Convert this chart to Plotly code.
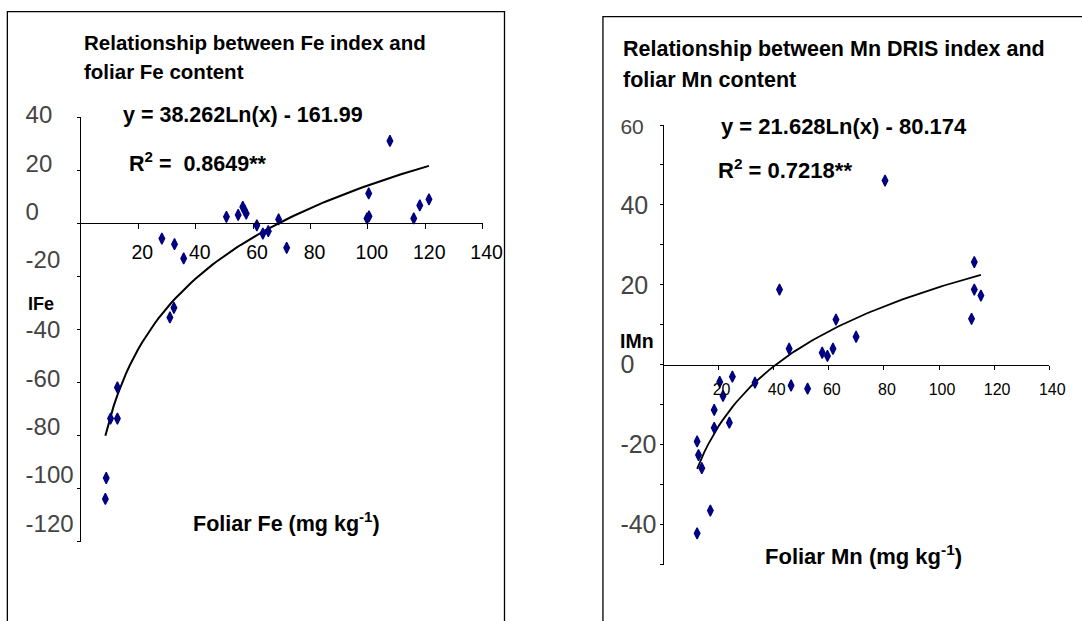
import numpy as np
import plotly.graph_objects as go

W, H = 1082, 621
FONT = "Liberation Sans, Arial, sans-serif"
NAVY = "#000080"

# ---------------- data ----------------
fe_x = [107.7, 100.3, 99.7, 100.4, 116.0, 118.1, 121.3, 50.7, 54.8, 56.4, 57.0, 57.6,
        61.3, 63.4, 65.3, 68.9, 71.7, 28.2, 32.6, 35.8, 31.0, 32.4, 12.7, 10.3, 12.7, 8.8, 8.5]
fe_y = [31.0, 11.2, 1.8, 2.6, 1.8, 6.7, 9.0, 2.4, 3.1, 6.1, 4.9, 3.6,
        -0.8, -3.9, -3.0, 1.4, -9.3, -5.8, -7.9, -13.3, -35.5, -31.9, -61.9, -73.6, -73.6, -96.0, -103.9]
fe_coef = (38.262, -161.99)

mn_x = [80.4, 42.1, 112.8, 112.8, 115.2, 62.6, 111.8, 69.9, 45.6, 57.6, 59.5, 61.5, 46.3,
        52.3, 33.2, 25.0, 20.4, 21.6, 18.4, 18.4, 23.9, 12.2, 12.7, 13.9, 17.0, 12.2]
mn_y = [46.1, 18.8, 25.7, 18.8, 17.3, 11.3, 11.5, 7.0, 4.0, 3.0, 2.2, 4.0, -5.2,
        -6.0, -4.5, -3.0, -4.3, -7.8, -11.3, -15.8, -14.5, -19.2, -22.6, -25.9, -36.5, -42.2]
mn_coef = (21.628, -80.174)

x_ticks = [20, 40, 60, 80, 100, 120, 140]
fe_y_labels_a = [40, 20, 0, -20]
fe_y_labels_b = [-40, -60, -80, -100, -120]
fe_y_ticks = [40, 20, 0, -20, -40, -60, -80, -100, -120]
mn_y_labels = [60, 40, 20, 0, -20, -40]
mn_y_ticks = [60, 50, 40, 30, 20, 10, 0, -10, -20, -30, -40, -50]

fe_title = ["Relationship between Fe index and", "foliar Fe content"]
mn_title = ["Relationship between Mn DRIS index and", "foliar Mn content"]
fe_eq = "y = 38.262Ln(x) - 161.99"
fe_r2 = "R<sup>2</sup> = &nbsp;0.8649**"
mn_eq = "y = 21.628Ln(x) - 80.174"
mn_r2 = "R<sup>2</sup> = 0.7218**"
fe_xtitle = "Foliar Fe (mg kg<sup>-1</sup>)"
mn_xtitle = "Foliar Mn (mg kg<sup>-1</sup>)"
fe_ytitle = "IFe"
mn_ytitle = "IMn"


def px(x):
    return x / W


def py(y):
    return 1 - y / H


def trend(xs, coef, n=80):
    xx = np.linspace(min(xs), max(xs), n)
    return xx, coef[0] * np.log(xx) + coef[1]


def label_range(va, pa, vb, pb, top=0.0, bot=float(H)):
    # range of a full-height label axis placing value va at pixel pa and vb at pb
    k = (pb - pa) / (va - vb)
    r1 = va + (pa - top) / k
    r0 = r1 - (bot - top) / k
    return [r0, r1]


fig = go.Figure()

# ---------------- left panel (Fe) ----------------
fx, fy = trend(fe_x, fe_coef)
fig.add_trace(go.Scatter(x=fx, y=fy, mode="lines", line=dict(color="black", width=2),
                         xaxis="x", yaxis="y", hoverinfo="skip"))
fig.add_trace(go.Scatter(x=fe_x, y=fe_y, mode="markers",
                         marker=dict(symbol="diamond-tall", size=8, color=NAVY,
                                     line=dict(color=NAVY, width=1.3)),
                         xaxis="x", yaxis="y"))
fig.add_trace(go.Scatter(x=[None], y=[None], xaxis="x", yaxis="y3", hoverinfo="skip"))
fig.add_trace(go.Scatter(x=[None], y=[None], xaxis="x", yaxis="y4", hoverinfo="skip"))

# ---------------- right panel (Mn) ----------------
mx, my = trend(mn_x, mn_coef)
fig.add_trace(go.Scatter(x=mx, y=my, mode="lines", line=dict(color="black", width=1.8),
                         xaxis="x2", yaxis="y2", hoverinfo="skip"))
fig.add_trace(go.Scatter(x=mn_x, y=mn_y, mode="markers",
                         marker=dict(symbol="diamond-tall", size=8, color=NAVY,
                                     line=dict(color=NAVY, width=1.3)),
                         xaxis="x2", yaxis="y2"))
fig.add_trace(go.Scatter(x=[None], y=[None], xaxis="x2", yaxis="y5", hoverinfo="skip"))

# geometry
L_T, L_B = 117.0, 541.7
R_T, R_B = 125.0, 564.5
fe_yrange = [-120, 40]
mn_yrange = [-50, 60]


def zero_pos(top, bot, rng):
    d0, d1 = py(bot), py(top)
    return d0 + (0 - rng[0]) / (rng[1] - rng[0]) * (d1 - d0)


axis_common = dict(showgrid=False, zeroline=False, showline=True, linecolor="black",
                   linewidth=1, ticks="outside", tickcolor="black", tickwidth=1)
label_axis = dict(side="left", anchor="free", domain=[0, 1], ticklabelposition="inside",
                  ticks="", showline=False, showgrid=False, zeroline=False,
                  fixedrange=True)

layout = dict(
    width=W, height=H, margin=dict(l=0, r=0, t=0, b=0),
    paper_bgcolor="white", plot_bgcolor="rgba(0,0,0,0)", showlegend=False,
    font=dict(family=FONT, color="black"),
    xaxis=dict(domain=[px(82.5), px(491.7)], range=[0, 140], anchor="free",
               position=zero_pos(L_T, L_B, fe_yrange), tickvals=x_ticks,
               ticktext=[str(v) for v in x_ticks], ticklen=5, ticklabelstandoff=6,
               ticklabelshift=4, tickfont=dict(size=19.5, family=FONT), **axis_common),
    yaxis=dict(domain=[py(L_B), py(L_T)], range=fe_yrange, anchor="x",
               tickvals=fe_y_ticks, showticklabels=False, ticklen=3, **axis_common),
    yaxis3=dict(position=px(22), range=label_range(40, 115, -20, 259.3),
                tickvals=fe_y_labels_a, ticktext=[str(v) for v in fe_y_labels_a],
                tickfont=dict(size=24, family=FONT), **label_axis),
    yaxis4=dict(position=px(22), range=label_range(-40, 330, -120, 523.3),
                tickvals=fe_y_labels_b, ticktext=[str(v) for v in fe_y_labels_b],
                tickfont=dict(size=24, family=FONT), **label_axis),
    xaxis2=dict(domain=[px(676), px(1069)], range=[0, 140], anchor="free",
                position=zero_pos(R_T, R_B, mn_yrange), tickvals=x_ticks,
                ticktext=[str(v) for v in x_ticks], ticklen=4, ticklabelstandoff=6,
                ticklabelshift=3, tickfont=dict(size=16, family=FONT), **axis_common),
    yaxis2=dict(domain=[py(R_B), py(R_T)], range=mn_yrange, anchor="x2",
                tickvals=mn_y_ticks, showticklabels=False, ticklen=3, **axis_common),
    yaxis5=dict(position=px(628), range=label_range(60, R_T, -50, R_B),
                tickvals=mn_y_labels,
                ticktext=['<span style="font-size:21px">60</span>'] + [str(v) for v in mn_y_labels[1:]],
                tickfont=dict(size=25, family=FONT), **label_axis),
)
fig.update_layout(**layout)

# panel borders
fig.add_shape(type="rect", xref="paper", yref="paper", x0=px(7.5), x1=px(514),
              y0=py(660), y1=py(11.7), line=dict(color="black", width=1.3))
fig.add_shape(type="rect", xref="paper", yref="paper", x0=px(614.3), x1=px(1120),
              y0=py(660), y1=py(16.7), line=dict(color="black", width=1.3))


def note(text, x, y, size):
    fig.add_annotation(text="<b>" + text + "</b>", x=px(x), y=py(y), xref="paper", yref="paper",
                       xanchor="left", yanchor="middle", showarrow=False,
                       font=dict(size=size, family=FONT, color="black"))


note(fe_title[0], 84, 42.5, 20.5)
note(fe_title[1], 84, 71.5, 20.5)
note(fe_eq, 123, 115, 21.5)
note(fe_r2, 129, 161.5, 21.5)
note(fe_ytitle, 26.5, 304, 18)
note(fe_xtitle, 195, 522, 21.5)

note(mn_title[0], 633, 48.7, 21.5)
note(mn_title[1], 633, 80, 21.5)
note(mn_eq, 733, 126.7, 22)
note(mn_r2, 729, 169.3, 22)
note(mn_ytitle, 630, 341, 19.5)
note(mn_xtitle, 777, 555, 22)

fig.write_html("out.html")
